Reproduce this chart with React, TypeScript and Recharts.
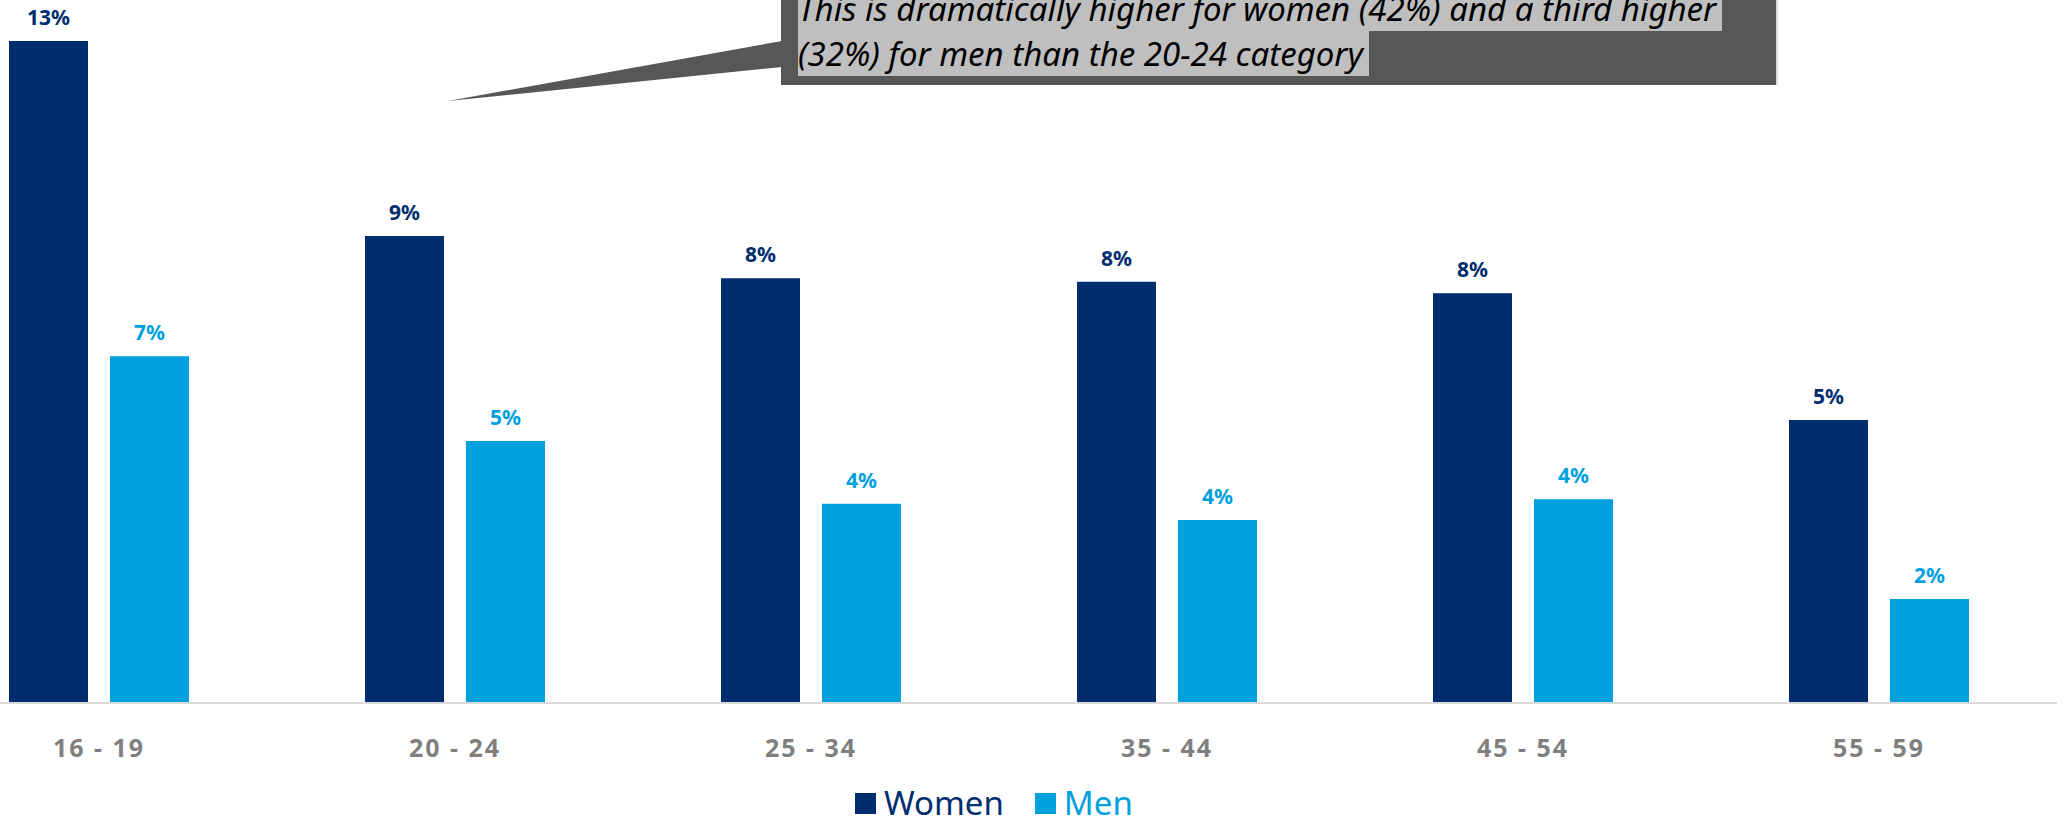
import React from "react";
import { BarChart, Bar, XAxis, YAxis, LabelList, Legend } from "recharts";

// age bands and shares (%)
const ageBands = ["16 - 19", "20 - 24", "25 - 34", "35 - 44", "45 - 54", "55 - 59"];
const womenValues = [12.73, 8.98, 8.17, 8.1, 7.88, 5.44];
const menValues = [6.67, 5.04, 3.83, 3.52, 3.92, 2.0];
const seriesNames = ["Women", "Men"];

const calloutLines = [
  "This is dramatically higher for women (42%) and a third higher",
  "(32%) for men than the 20-24 category",
];

const NAVY = "#002D6E";
const BLUE = "#00A0DF";

const data = ageBands.map((band, i) => ({
  band,
  women: womenValues[i],
  men: menValues[i],
}));

const pct = (v: any) => `${Math.round(Number(v))}%`;

function LegendContent({ payload }: any) {
  // keep the series order, not recharts' alphabetical one
  const items = [...(payload || [])].sort(
    (a: any, b: any) => seriesNames.indexOf(a.value) - seriesNames.indexOf(b.value)
  );
  return (
    <div
      style={{
        display: "flex",
        alignItems: "center",
        height: 34,
        fontFamily: "'Noto Sans', sans-serif",
      }}
    >
      {items.map((p: any, i: number) => (
        <div
          key={p.value}
          style={{ display: "flex", alignItems: "center", marginLeft: i === 0 ? 0 : 31 }}
        >
          <span style={{ width: 21, height: 21, background: p.color, display: "inline-block" }} />
          <span style={{ marginLeft: 8, fontSize: 33, color: p.color, lineHeight: "34px" }}>
            {p.value}
          </span>
        </div>
      ))}
    </div>
  );
}

export default function App() {
  return (
    <div
      style={{
        position: "absolute",
        left: 0,
        top: 0,
        width: 2069,
        height: 826,
        overflow: "hidden",
        background: "#fff",
        fontFamily: "'Noto Sans', sans-serif",
      }}
    >
      <div style={{ position: "absolute", left: -79, top: 0 }}>
        <BarChart
          width={2148}
          height={826}
          data={data}
          margin={{ top: 27, right: 12, left: 0, bottom: 43 }}
          barSize={79}
          barGap={22}
        >
          <XAxis
            dataKey="band"
            height={80}
            tickSize={0}
            tickMargin={36}
            axisLine={{ stroke: "#D9D9D9", strokeWidth: 2 }}
            tick={{ fill: "#7F7F7F", fontSize: 25, fontWeight: 700, letterSpacing: 2 }}
          />
          <YAxis hide width={0} domain={[0, 13]} />
          <Legend
            layout="horizontal"
            verticalAlign="middle"
            align="center"
            content={<LegendContent />}
            wrapperStyle={{ left: 934, top: 786, width: 330, height: 34 }}
          />
          <Bar dataKey="women" name="Women" fill={NAVY} isAnimationActive={false}>
            <LabelList
              dataKey="women"
              position="top"
              offset={16}
              formatter={pct}
              fill={NAVY}
              fontSize={21}
              fontWeight={700}
            />
          </Bar>
          <Bar dataKey="men" name="Men" fill={BLUE} isAnimationActive={false}>
            <LabelList
              dataKey="men"
              position="top"
              offset={16}
              formatter={pct}
              fill={BLUE}
              fontSize={21}
              fontWeight={700}
            />
          </Bar>
        </BarChart>
      </div>

      {/* callout pointer */}
      <svg
        width={2069}
        height={826}
        style={{ position: "absolute", left: 0, top: 0, pointerEvents: "none" }}
      >
        <polygon points="448,101 782,41 782,67" fill="#575757" />
      </svg>

      {/* callout box */}
      <div
        style={{
          position: "absolute",
          left: 781,
          top: -30,
          width: 995,
          height: 115,
          background: "#575757",
          borderRight: "2px solid #dcdcdc",
        }}
      >
        {calloutLines.map((line, i) => (
          <div
            key={i}
            style={{
              position: "absolute",
              left: 17,
              top: 16 + i * 45,
              height: 45,
              lineHeight: "45px",
              whiteSpace: "nowrap",
            }}
          >
            <span
              style={{
                display: "inline-block",
                background: "#BFBFBF",
                height: 45,
                paddingRight: 6,
                fontSize: 33,
                fontStyle: "italic",
                color: "#000",
              }}
            >
              {line}
            </span>
          </div>
        ))}
      </div>
    </div>
  );
}
